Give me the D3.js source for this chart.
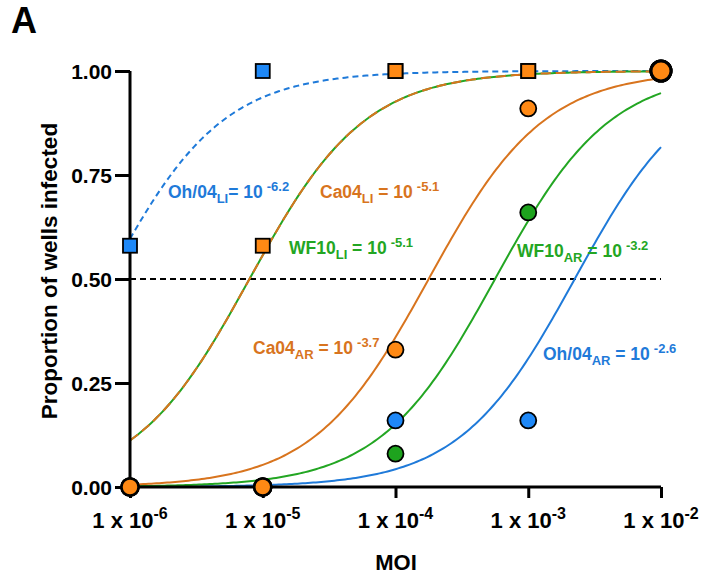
<!DOCTYPE html>
<html>
<head>
<meta charset="utf-8">
<script src="https://cdn.jsdelivr.net/npm/d3@7"></script>
<style>
  body { margin: 0; background: #fff; }
  text { font-family: "Liberation Sans", Arial, sans-serif; font-weight: bold; }
</style>
</head>
<body>
<div id="chart"></div>
<script>
// MOI dilutions (x) and tick exponents
var moi = [1e-6, 1e-5, 1e-4, 1e-3, 1e-2];
var tickExp = ["-6", "-5", "-4", "-3", "-2"];
var yTicks = [0, 0.25, 0.5, 0.75, 1.0];

// observed proportion of wells infected
var oh04LI = [0.58, 1.0, 1.0, 1.0, 1.0];
var ca04LI = [null, 0.58, 1.0, 1.0, 1.0];
var oh04AR = [0, 0, 0.16, 0.16, 1.0];
var wf10AR = [0, 0, 0.08, 0.66, 1.0];
var ca04AR = [0, 0, 0.33, 0.91, 1.0];

// fitted log10 ID50 of each curve (hill slope 1)
var fitNames = ["Oh/04LI", "WF10LI", "Ca04LI", "Oh/04AR", "WF10AR", "Ca04AR"];
var fitLogID50 = [-6.17, -5.1, -5.1, -2.65, -3.25, -3.75];

var blue = "#1f7ad9", orange = "#d8741e", green = "#23a623";
var blueFill = "#1e88f7", orangeFill = "#ff8914", greenFill = "#1ea31e";

var width = 718, height = 578;
var svg = d3.select("#chart").append("svg")
  .attr("width", width)
  .attr("height", height);

var x = d3.scaleLog().domain([1e-6, 1e-2]).range([130, 661]);
var y = d3.scaleLinear().domain([0, 1]).range([487, 71]);

// panel letter
svg.append("text").attr("x", 11).attr("y", 33)
  .style("font-size", "36px").text("A");

// 50% reference line
svg.append("line")
  .attr("x1", x(1e-6)).attr("x2", x(1e-2))
  .attr("y1", y(0.5)).attr("y2", y(0.5))
  .attr("stroke", "#000").attr("stroke-width", 1.8)
  .attr("stroke-dasharray", "6,4");

// fitted curves
function hill(logid50) {
  var pts = d3.range(0, 201).map(function(i) {
    var lx = -6 + 4 * i / 200;
    return [Math.pow(10, lx), 1 / (1 + Math.pow(10, logid50 - lx))];
  });
  return pts;
}
var line = d3.line()
  .x(function(d) { return x(d[0]); })
  .y(function(d) { return y(d[1]); });

var curveStyle = {
  "Oh/04LI": { c: blue, dash: "6,4" },
  "WF10LI": { c: green, dash: null },
  "Ca04LI": { c: orange, dash: "10,5" },
  "Oh/04AR": { c: blue, dash: null },
  "WF10AR": { c: green, dash: null },
  "Ca04AR": { c: orange, dash: null }
};
fitNames.forEach(function(n, i) {
  svg.append("path")
    .datum(hill(fitLogID50[i]))
    .attr("d", line)
    .attr("fill", "none")
    .attr("stroke", curveStyle[n].c)
    .attr("stroke-width", 2)
    .attr("stroke-dasharray", curveStyle[n].dash);
});

// axes
var yAxis = d3.axisLeft(y).tickValues(yTicks).tickSize(15).tickPadding(3)
  .tickFormat(d3.format(".2f"));
var gy = svg.append("g").attr("transform", "translate(130,0)").call(yAxis);
gy.attr("font-size", null).attr("font-family", null);
gy.select(".domain").attr("stroke-width", 3).attr("d", "M0," + y(1) + "V" + y(0));
gy.selectAll(".tick line").attr("stroke-width", 3);
gy.selectAll(".tick text").style("font-size", "21px").attr("fill", "#000")
  .attr("dy", "0.35em");

var xAxis = d3.axisBottom(x).tickValues(moi).tickSize(11).tickFormat("");
var gx = svg.append("g").attr("transform", "translate(0,487)").call(xAxis);
gx.select(".domain").attr("stroke-width", 3).attr("d", "M" + x(1e-6) + ",0H" + x(1e-2));
gx.selectAll(".tick line").attr("stroke-width", 3);

moi.forEach(function(m, i) {
  var t = svg.append("text").attr("x", x(m)).attr("y", 528)
    .attr("text-anchor", "middle").style("font-size", "22px");
  t.append("tspan").text("1 x 10");
  t.append("tspan").attr("dy", -9).style("font-size", "16px").text(tickExp[i]);
});

svg.append("text").attr("x", 396).attr("y", 570)
  .attr("text-anchor", "middle").style("font-size", "22px").text("MOI");

svg.append("text")
  .attr("transform", "translate(57,271) rotate(-90)")
  .attr("text-anchor", "middle").style("font-size", "22.5px")
  .text("Proportion of wells infected");

// markers
function squares(vals, fill) {
  svg.selectAll(null)
    .data(moi.map(function(m, i) { return [m, vals[i]]; })
      .filter(function(d) { return d[1] !== null && d[0] < 1e-2; }))
    .enter().append("rect")
    .attr("x", function(d) { return x(d[0]) - 7; })
    .attr("y", function(d) { return y(d[1]) - 7; })
    .attr("width", 14).attr("height", 14)
    .attr("fill", fill).attr("stroke", "#000").attr("stroke-width", 1.8);
}
function circles(vals, fill) {
  svg.selectAll(null)
    .data(moi.map(function(m, i) { return [m, vals[i]]; }))
    .enter().append("circle")
    .attr("cx", function(d) { return x(d[0]); })
    .attr("cy", function(d) { return y(d[1]); })
    .attr("r", function(d) { return d[0] === 1e-2 ? 10 : (d[1] === 0 ? 8.5 : 8); })
    .attr("fill", fill).attr("stroke", "#000")
    .attr("stroke-width", function(d) { return d[0] === 1e-2 ? 3 : (d[1] === 0 ? 2.5 : 1.8); });
}
squares(oh04LI, blueFill);
squares(ca04LI, orangeFill);
circles(oh04AR, blueFill);
circles(wf10AR, greenFill);
circles(ca04AR, orangeFill);

// curve annotations
var labels = [
  { name: "Oh/04", sub: "LI", eq: "= 10", sup: "-6.2", c: blue, px: 168, py: 198 },
  { name: "Ca04", sub: "LI", eq: " = 10", sup: "-5.1", c: orange, px: 320, py: 198 },
  { name: "WF10", sub: "LI", eq: " = 10", sup: "-5.1", c: green, px: 289, py: 254 },
  { name: "WF10", sub: "AR", eq: " = 10", sup: "-3.2", c: green, px: 517, py: 257 },
  { name: "Ca04", sub: "AR", eq: " = 10", sup: "-3.7", c: orange, px: 253, py: 354 },
  { name: "Oh/04", sub: "AR", eq: " = 10", sup: "-2.6", c: blue, px: 543, py: 360 }
];
labels.forEach(function(l) {
  var t = svg.append("text").attr("x", l.px).attr("y", l.py)
    .attr("fill", l.c).style("font-size", "17.5px");
  t.append("tspan").text(l.name);
  t.append("tspan").attr("dy", 5).style("font-size", "13px").text(l.sub);
  t.append("tspan").attr("dy", -5).text(l.eq);
  t.append("tspan").attr("dy", -7).attr("dx", 4).style("font-size", "13px").text(l.sup);
});
</script>
</body>
</html>
